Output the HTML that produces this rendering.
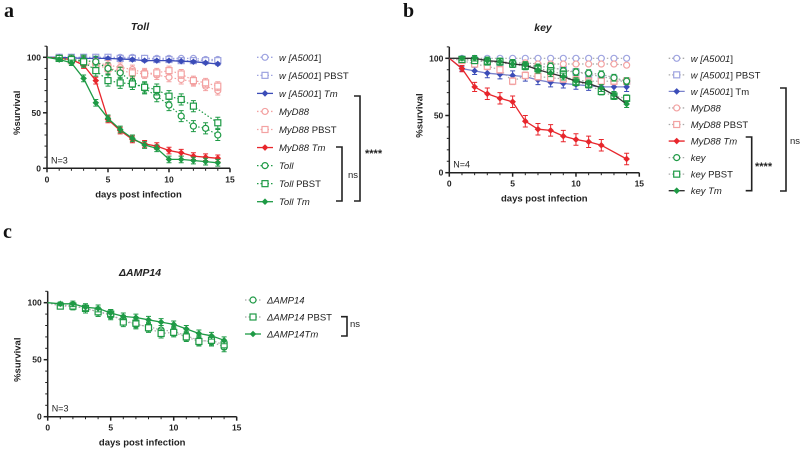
<!DOCTYPE html>
<html><head><meta charset="utf-8">
<style>
html,body{margin:0;padding:0;background:#fff;}
svg{display:block;font-family:"Liberation Sans",Arial,sans-serif;}
</style></head>
<body>
<svg id="fig" width="800" height="451" viewBox="0 0 800 451"></svg>
<script>
// ---------- data ----------
const days = [0,1,2,3,4,5,6,7,8,9,10,11,12,13,14];
const xTicks = [0,5,10,15];
const yTicks = [0,50,100];

// Panel a (Toll)
const aWA = [100,100,100,100,100,100,100,100,99,99,99,99,99,98,98];
const aWAP = [100,100,100,100,100,100,99,99,99,98,98,97,97,97,97];
const aWATm = [100,100,99.5,99,99,99,98.5,98,97,97,97,96.5,96,95,94];
const aMy = [100,99,98,97,95,93,91,89,86,84,82,80,78,74,70];
const aMyP = [100,99,97,95,93,90,88,86,85,86,88,85,79,77,74];
const aMyTm = [100,99,98,93,79,44,34,26,22,20,16,14,11,10,9];
const aToll = [100,99,98,97,96,90,86,78,72,65,57,47,38,36,30];
const aTollP = [100,99,98,96,88,79,77,76,73,71,65,62,56,null,41];
const aTollTm = [100,98,95,81,59,45,35,27,21,18,8,8,7,6,5];

// Panel b (key)
const bWA = [100,100,100,100,100,100,100,100,100,100,100,100,100,100,100];
const bWAP = [100,99,98,97,96,95,94,93,92,90,88,86,84,82,80];
const bWATm = [100,91,89,87,86,85,84,81,79,78,77,76,75,75,75];
const bMy = [100,99,98,97,97,96,96,95,95,95,95,95,95,95,94];
const bMyP = [100,98,95,93,90,80,85,84,83,82,81,80,80,80,80];
const bMyTm = [100,91,75,69,65,62,45,38,37,32,29,27,24,null,12];
const bKey = [100,99,99,98,97,96,94,92,93,89,88,87,86,83,80];
const bKeyP = [100,99,98,97,97,95,93,91,89,86,79,77,71,67,65];
const bKeyTm = [100,100,100,98,97,95,94,90,87,84,80,78,74,68,60];

// Panel c (ΔAMP14)
const cAmp = [100,98,97,95,92,89,85,81,79,76,75,71,67,66,61];
const cAmpP = [100,97,97,95,92,90,83,82,78,73,74,70,66,67,63];
const cAmpTm = [100,99,99,96,95,91,88,87,85,83,81,77,73,71,67];

const BLUE='#3b4cb8', LBLUE='#9ea3e0', RED='#e8262c', LRED='#f3a2a2', GREEN='#1e9a45', GRAY='#a8a8a8';

const svg = document.getElementById('fig');
const NS='http://www.w3.org/2000/svg';
function el(tag, attrs, parent){
  const e=document.createElementNS(NS,tag);
  for(const k in attrs) e.setAttribute(k,attrs[k]);
  (parent||svg).appendChild(e); return e;
}
function txt(str, x, y, opts, parent){
  const t=el('text',Object.assign({x:x,y:y,'font-size':9,fill:'#222'},opts||{}),parent);
  t.textContent=str; return t;
}
function marker(g, type, x, y, color){
  let m;
  if(type==='circle') m=el('circle',{cx:x,cy:y,r:3,fill:'#fff',stroke:color,'stroke-width':1.2},g);
  else if(type==='square') m=el('rect',{x:x-3,y:y-3,width:6,height:6,fill:'#fff',stroke:color,'stroke-width':1.2},g);
  else m=el('path',{d:`M${x} ${y-3.3}L${x+3.3} ${y}L${x} ${y+3.3}L${x-3.3} ${y}Z`,fill:color},g);
  return m;
}

function panel(cfg){
  const g=el('g',{});
  
  
  const X=d=>cfg.x0+(cfg.x1-cfg.x0)*d/15;
  const Y=v=>cfg.y0+(cfg.y100-cfg.y0)*v/100;
  const top=Y(110);
  // axes
  const ax=el('g',{stroke:'#222','stroke-width':1.5},g);
  
  
  el('line',{x1:X(0),y1:top,x2:X(0),y2:Y(0)+0.7},ax);
  el('line',{x1:X(0)-0.7,y1:Y(0),x2:X(15),y2:Y(0)},ax);
  for(let v=0;v<=110;v+=10){ const big=v%50===0; el('line',{x1:X(0)-(big?4:2.5),y1:Y(v),x2:X(0),y2:Y(v),'stroke-width':big?1.5:1},ax); }
  for(let d=0;d<=15;d++){ const big=d%5===0; el('line',{x1:X(d),y1:Y(0),x2:X(d),y2:Y(0)+(big?4:2.5),'stroke-width':big?1.5:1},ax); }
  yTicks.forEach(v=>{ const t=txt(String(v),X(0)-6,Y(v)+3,{'text-anchor':'end','font-weight':'bold','font-size':8.5},g);
      });
  xTicks.forEach(d=>{ const t=txt(String(d),X(d),Y(0)+14,{'text-anchor':'middle','font-weight':'bold','font-size':8.5},g);
      });
  const xl=txt('days post infection',(X(0)+X(15))/2,Y(0)+29,{'text-anchor':'middle','font-weight':'bold','font-size':9.5},g);
   
  const cy=(Y(0)+Y(100))/2;
  const yl=txt('%survival',0,0,{'text-anchor':'middle','font-weight':'bold','font-size':9.5,transform:`translate(${X(0)-27},${cy}) rotate(-90)`},g);
   
  const tt=txt(cfg.title,cfg.titleX,cfg.titleY,{'text-anchor':'middle','font-weight':'bold','font-style':'italic','font-size':10.5},g);
   
  const nn=txt(cfg.n,X(0)+4,Y(0)-5,{'font-size':9},g);
   
  const lt=txt(cfg.letter,cfg.lx,cfg.ly,{'font-family':'"Liberation Serif",serif','font-weight':'bold','font-size':20,fill:'#111'},g);
   

  // series
  cfg.series.forEach((s,i)=>{
    const sg=el('g',{},g);
    
    
    const lc=s.lineColor||s.color;
    let dstr=''; let first=true;
    days.forEach((d,j)=>{ const v=s.values[j]; if(v==null) return; dstr+=(first?'M':'L')+X(d).toFixed(1)+' '+Y(v).toFixed(1); first=false; });
    const p=el('path',{d:dstr,fill:'none',stroke:lc,'stroke-width':s.dotted?1.2:1.3,'stroke-dasharray':s.dotted?'1.5 2':'none'},sg);
    
    
    days.forEach((d,j)=>{ const v=s.values[j]; if(v==null||j===0) return;
      const e=s.err*Math.min(1,j/4+0.3);
      if(e>0.5){ const eb=el('path',{d:`M${X(d)} ${Y(v+e)}V${Y(v-e)}M${X(d)-2.5} ${Y(v+e)}h5M${X(d)-2.5} ${Y(v-e)}h5`,stroke:s.color,'stroke-width':1,fill:'none'},sg);
          }
      const m=marker(sg,s.shape,X(d),Y(v),s.color);
      
      
    });
    // legend
    const ly=cfg.legY0+i*cfg.legDy;
    const lg=el('g',{},g);
    
    
    el('line',{x1:cfg.legX-8,y1:ly,x2:cfg.legX+8,y2:ly,stroke:lc,'stroke-width':1.3,'stroke-dasharray':s.dotted?'1.5 2':'none'},lg);
    marker(lg,s.shape,cfg.legX,ly,s.color);
    const t=el('text',{x:cfg.legX+14,y:ly+3.5,'font-size':9.5,fill:'#222'},lg);
    s.label.forEach(([str,it])=>{ const ts=el('tspan',{'font-style':it?'italic':'normal'},t); ts.textContent=str; });
  });
  return g;
}
function bracket(x,y1,y2,label,lx,ly,fs){
  const g=el('g',{});
  
  
  el('path',{d:`M${x-6} ${y1}H${x}V${y2}H${x-6}`,fill:'none',stroke:'#222','stroke-width':1.6},g);
  txt(label,lx,ly,{'font-size':fs||10,'font-weight':label.startsWith('*')?'bold':'normal'},g);
}

panel({name:'toll',x0:47,x1:230,y100:57.3,y0:168.3,title:'Toll',titleX:140,titleY:30,n:'N=3',letter:'a',lx:4,ly:17,
  legX:265,legY0:57.3,legDy:18.05,series:[
  {key:'w-a5001',values:aWA,color:LBLUE,shape:'circle',dotted:true,err:0,label:[['w ',1],['[A5001',1],[']',0]]},
  {key:'w-a5001-pbst',values:aWAP,color:LBLUE,shape:'square',dotted:true,err:0,label:[['w ',1],['[A5001',1],['] PBST',0]]},
  {key:'w-a5001-tm',values:aWATm,color:BLUE,shape:'diamond',dotted:false,err:1,label:[['w ',1],['[A5001',1],['] ',0],['Tm',1]]},
  {key:'myd88',values:aMy,color:LRED,shape:'circle',dotted:true,err:4,label:[['MyD88',1]]},
  {key:'myd88-pbst',values:aMyP,color:LRED,shape:'square',dotted:true,err:4,label:[['MyD88',1],[' PBST',0]]},
  {key:'myd88-tm',values:aMyTm,color:RED,shape:'diamond',dotted:false,err:3,label:[['MyD88 Tm',1]]},
  {key:'toll',values:aToll,color:GREEN,shape:'circle',dotted:true,err:5,label:[['Toll',1]]},
  {key:'toll-pbst',values:aTollP,color:GREEN,shape:'square',dotted:true,err:5,label:[['Toll',1],[' PBST',0]]},
  {key:'toll-tm',values:aTollTm,color:GREEN,shape:'diamond',dotted:false,err:3,label:[['Toll Tm',1]]}
]});
bracket(342,147,201,'ns',348,178,9.5);
bracket(360,96,201,'****',365,157,11);

panel({name:'key',x0:449.3,x1:639.3,y100:58.3,y0:172.7,title:'key',titleX:543,titleY:31,n:'N=4',letter:'b',lx:403,ly:17,
  legX:676.7,legY0:58.3,legDy:16.55,series:[
  {key:'w-a5001',values:bWA,color:LBLUE,lineColor:GRAY,shape:'circle',dotted:true,err:0,label:[['w ',1],['[A5001',1],[']',0]]},
  {key:'w-a5001-pbst',values:bWAP,color:LBLUE,lineColor:GRAY,shape:'square',dotted:true,err:2,label:[['w ',1],['[A5001',1],['] PBST',0]]},
  {key:'w-a5001-tm',values:bWATm,color:BLUE,lineColor:'#7a82cc',shape:'diamond',dotted:false,err:4,label:[['w ',1],['[A5001',1],['] Tm',0]]},
  {key:'myd88',values:bMy,color:LRED,lineColor:GRAY,shape:'circle',dotted:true,err:0,label:[['MyD88',1]]},
  {key:'myd88-pbst',values:bMyP,color:LRED,lineColor:GRAY,shape:'square',dotted:true,err:3,label:[['MyD88',1],[' PBST',0]]},
  {key:'myd88-tm',values:bMyTm,color:RED,shape:'diamond',dotted:false,err:5,label:[['MyD88 Tm',1]]},
  {key:'key',values:bKey,color:GREEN,lineColor:GRAY,shape:'circle',dotted:true,err:3,label:[['key',1]]},
  {key:'key-pbst',values:bKeyP,color:GREEN,lineColor:GRAY,shape:'square',dotted:true,err:3,label:[['key',1],[' PBST',0]]},
  {key:'key-tm',values:bKeyTm,color:GREEN,lineColor:'#333',shape:'diamond',dotted:false,err:3,label:[['key Tm',1]]}
]});
bracket(751.7,137,190.7,'****',755,170,11);
bracket(786,88,191,'ns',790,144,9.5);

panel({name:'amp14',x0:47.7,x1:236.7,y100:302.7,y0:416.7,title:'ΔAMP14',titleX:140,titleY:276,n:'N=3',letter:'c',lx:3,ly:238,
  legX:253,legY0:300,legDy:17,series:[
  {key:'amp14',values:cAmp,color:GREEN,lineColor:GRAY,shape:'circle',dotted:true,err:4,label:[['ΔAMP14',1]]},
  {key:'amp14-pbst',values:cAmpP,color:GREEN,lineColor:GRAY,shape:'square',dotted:true,err:4,label:[['ΔAMP14',1],[' PBST',0]]},
  {key:'amp14-tm',values:cAmpTm,color:GREEN,shape:'diamond',dotted:false,err:3,label:[['ΔAMP14Tm',1]]}
]});
bracket(347,316.7,336,'ns',350,327,9.5);
</script>
</body></html>
